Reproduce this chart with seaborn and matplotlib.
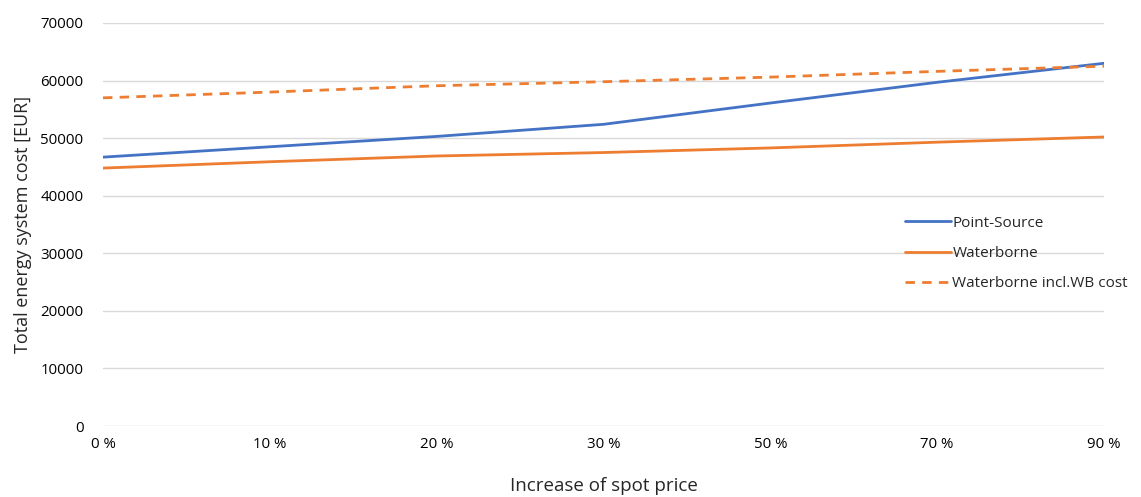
import matplotlib
matplotlib.use("Agg")
import matplotlib.pyplot as plt
import seaborn as sns
import pandas as pd

# data
price_increase = ["0 %", "10 %", "20 %", "30 %", "50 %", "70 %", "90 %"]
point_source = [46700, 48500, 50300, 52400, 56100, 59700, 63000]
waterborne = [44800, 45900, 46900, 47500, 48300, 49300, 50200]
waterborne_wb = [57000, 58000, 59100, 59800, 60600, 61600, 62500]

series_names = ["Point-Source", "Waterborne", "Waterborne incl.WB cost"]

sns.set_theme(style="white")
plt.rcParams["font.family"] = ["Open Sans", "DejaVu Sans"]

df = pd.DataFrame(
    {
        "Increase of spot price": price_increase * 3,
        "cost": point_source + waterborne + waterborne_wb,
        "Series": [series_names[0]] * len(point_source)
        + [series_names[1]] * len(waterborne)
        + [series_names[2]] * len(waterborne_wb),
    }
)

fig = plt.figure(figsize=(11.41, 4.97), dpi=100)
ax = fig.add_axes([103 / 1141, 1 - 426 / 497, (1104 - 103) / 1141, (426 - 23) / 497])

palette = {
    series_names[0]: "#4472C4",
    series_names[1]: "#ED7D31",
    series_names[2]: "#ED7D31",
}
dashes = {
    series_names[0]: "",
    series_names[1]: "",
    series_names[2]: (3.4, 2.6),
}

sns.lineplot(
    data=df,
    x="Increase of spot price",
    y="cost",
    hue="Series",
    style="Series",
    palette=palette,
    dashes=dashes,
    linewidth=2.0,
    ax=ax,
    sort=False,
)

ax.set_xlim(0, len(price_increase) - 1)
ax.set_ylim(0, 70000)
ax.set_yticks(range(0, 70001, 10000))
ax.yaxis.grid(True, color="#D9D9D9", linewidth=1)
ax.xaxis.grid(False)
for s in ax.spines.values():
    s.set_visible(False)
ax.tick_params(axis="both", length=0, labelsize=10.8, colors="#000000")
ax.tick_params(axis="y", pad=14)
ax.tick_params(axis="x", pad=8)

ax.set_xlabel("Increase of spot price", fontsize=13.5, labelpad=18)
ax.set_ylabel("Total energy system cost [EUR]", fontsize=13, labelpad=6)

handles, labels = ax.get_legend_handles_labels()
ax.legend(
    handles,
    labels,
    loc="upper left",
    bbox_to_anchor=(891 / 1141, 1 - 202 / 497),
    bbox_transform=fig.transFigure,
    frameon=False,
    fontsize=11,
    handlelength=3.0,
    handletextpad=0.12,
    labelspacing=1.0,
)

fig.savefig("out.png", dpi=100)
